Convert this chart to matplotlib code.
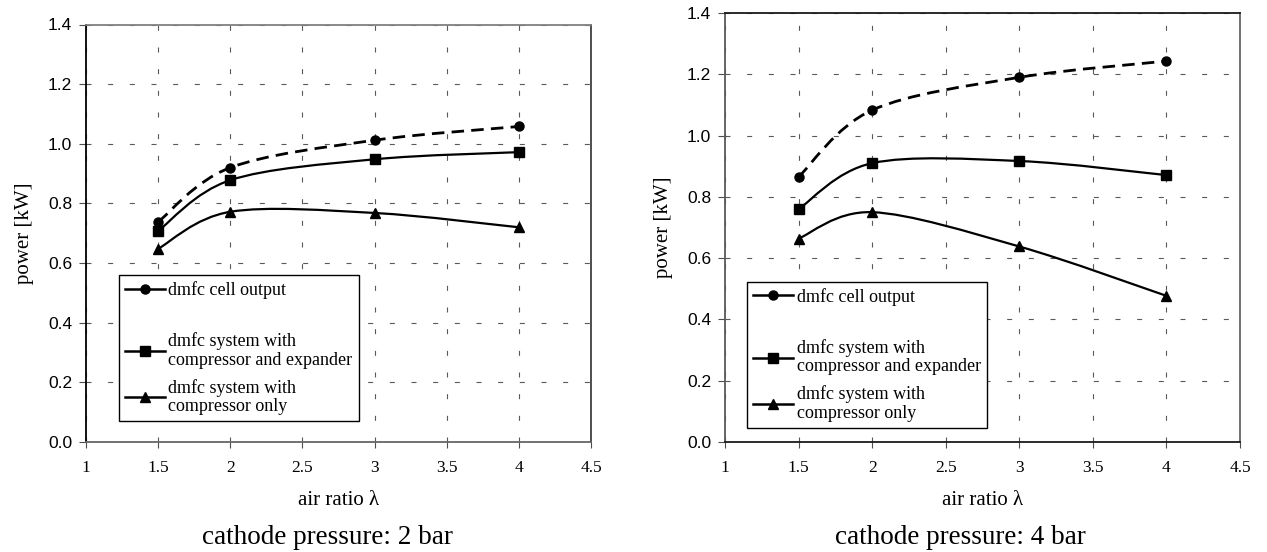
import matplotlib
matplotlib.use("Agg")
import matplotlib.pyplot as plt
from matplotlib.path import Path
from matplotlib.patches import PathPatch
from matplotlib.lines import Line2D
import numpy as np

# ---- data ----
air_ratio = [1.5, 2, 3, 4]
series_labels = ["dmfc cell output",
                 "dmfc system with\ncompressor and expander",
                 "dmfc system with\ncompressor only"]
p2_cell = [0.738, 0.920, 1.012, 1.058]
p2_comp_exp = [0.708, 0.878, 0.948, 0.972]
p2_comp_only = [0.648, 0.772, 0.768, 0.720]
p4_cell = [0.865, 1.083, 1.190, 1.243]
p4_comp_exp = [0.760, 0.910, 0.917, 0.871]
p4_comp_only = [0.664, 0.750, 0.638, 0.477]
captions = ["cathode pressure: 2 bar", "cathode pressure: 4 bar"]
x_ticks = [1, 1.5, 2, 2.5, 3, 3.5, 4, 4.5]
x_ticklabels = ["1", "1.5", "2", "2.5", "3", "3.5", "4", "4.5"]
y_ticks = [0.0, 0.2, 0.4, 0.6, 0.8, 1.0, 1.2, 1.4]

SERIF = "Liberation Serif"
SANS = "Liberation Sans"

fig = plt.figure(figsize=(12.67, 5.52), dpi=100)


def smooth_path(xs, ys):
    pts = np.column_stack([xs, ys]).astype(float)
    n = len(pts)
    verts = [pts[0]]
    codes = [Path.MOVETO]
    for i in range(n - 1):
        p_prev = pts[i - 1] if i > 0 else pts[i]
        p0 = pts[i]
        p1 = pts[i + 1]
        p_next = pts[i + 2] if i + 2 < n else pts[i + 1]
        c1 = p0 + (p1 - p_prev) / 6.0
        c2 = p1 - (p_next - p0) / 6.0
        verts += [c1, c2, p1]
        codes += [Path.CURVE4] * 3
    return Path(verts, codes)


def panel(ax, cell, ce, co, legend_anchor, spine_colors):
    styles = [
        (cell, "o", 6.5, (0, (4.5, 2.6))),
        (ce, "s", 7, "solid"),
        (co, "^", 7.5, "solid"),
    ]
    handles = []
    for vals, mk, ms, ls in styles:
        patch = PathPatch(smooth_path(air_ratio, vals), facecolor="none",
                          edgecolor="black", lw=2.0 if mk == "o" else 1.6,
                          linestyle=ls, zorder=3, capstyle="butt")
        ax.add_patch(patch)
        ax.plot(air_ratio, vals, linestyle="none", marker=mk, ms=ms,
                color="black", zorder=4)
        handles.append(Line2D([], [], color="black", lw=1.8, marker=mk,
                              ms=ms, ls="solid"))
    ax.set_xlim(1, 4.5)
    ax.set_ylim(0, 1.4)
    ax.set_xticks(x_ticks)
    ax.set_xticklabels(x_ticklabels, fontfamily=SERIF, fontsize=12.5)
    ax.set_yticks(y_ticks)
    ax.set_yticklabels([f"{v:.1f}" for v in y_ticks], fontfamily=SANS,
                       fontsize=12.5)
    ax.tick_params(axis="x", direction="out", length=4, pad=9, color="0.3")
    ax.tick_params(axis="y", direction="out", length=5, pad=5, color="0.3")
    ax.grid(True, color="0.35", lw=0.8, linestyle=(0, (4.5, 15)))
    ax.set_axisbelow(True)
    for side, col in spine_colors.items():
        ax.spines[side].set_color(col)
        ax.spines[side].set_linewidth(1.3)
    ax.set_xlabel("air ratio λ", fontfamily=SERIF, fontsize=15,
                  labelpad=11)
    ax.set_ylabel("power [kW]", fontfamily=SERIF, fontsize=15,
                  labelpad=10)

    blank = Line2D([], [], color="none", marker=None)
    leg = ax.legend([handles[0], blank, handles[1], handles[2]],
                    [series_labels[0], "", series_labels[1], series_labels[2]],
                    loc="lower left", bbox_to_anchor=legend_anchor,
                    borderaxespad=0, frameon=True, fancybox=False,
                    edgecolor="black", framealpha=1, handlelength=2.2,
                    handletextpad=0.2, labelspacing=0.55, borderpad=0.35,
                    prop={"family": SERIF, "size": 13.0})
    leg.get_frame().set_linewidth(1.0)
    for t in leg.get_texts():
        t.set_linespacing(1.1)
    leg.get_texts()[1].set_fontsize(4)
    return leg


ax1 = fig.add_axes([86 / 1267, 110 / 552, 505 / 1267, 417.5 / 552])
panel(ax1, p2_cell, p2_comp_exp, p2_comp_only, (0.065, 0.05),
      {"left": "black", "top": "0.5", "bottom": "0.4", "right": "0.25"})

ax2 = fig.add_axes([725 / 1267, 110 / 552, 515 / 1267, 429 / 552])
panel(ax2, p4_cell, p4_comp_exp, p4_comp_only, (0.043, 0.033),
      {"left": "0.35", "top": "0.1", "bottom": "0.1", "right": "0.4"})

fig.text(327 / 1267, 1 - 537 / 552, captions[0], fontfamily=SERIF,
         fontsize=19.5, ha="center", va="center")
fig.text(960 / 1267, 1 - 537 / 552, captions[1], fontfamily=SERIF,
         fontsize=19.5, ha="center", va="center")

fig.savefig("out.png", dpi=100)
